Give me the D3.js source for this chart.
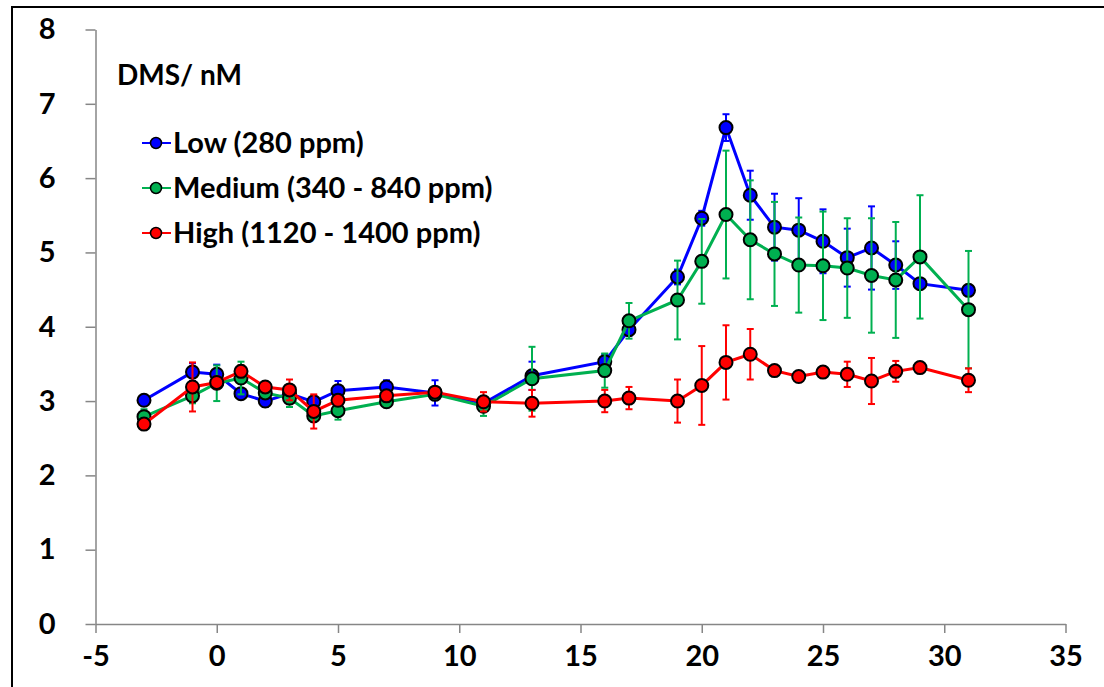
<!DOCTYPE html>
<html>
<head>
<meta charset="utf-8">
<script src="https://cdn.jsdelivr.net/npm/d3@7"></script>
<style>
  body { margin: 0; background: #fff; }
  text { font-family: Lato, "Open Sans", sans-serif; font-weight: 700; }
</style>
</head>
<body>
<div id="chart"></div>
<script>
// days of the experiment
var days = [-3, -1, 0, 1, 2, 3, 4, 5, 7, 9, 11, 13, 16, 17, 19, 20, 21, 22, 23, 24, 25, 26, 27, 28, 29, 31]

// mean DMS (nM) per treatment
var lowValues = [3.01, 3.39, 3.36, 3.10, 3.00, 3.10, 2.99, 3.14, 3.19, 3.11, 2.97, 3.34, 3.53, 3.96, 4.67, 5.46, 6.68, 5.77, 5.34, 5.30, 5.15, 4.93, 5.06, 4.83, 4.58, 4.49]
var mediumValues = [2.79, 3.07, 3.24, 3.31, 3.11, 3.04, 2.80, 2.87, 2.99, 3.09, 2.93, 3.30, 3.41, 4.08, 4.36, 4.88, 5.51, 5.17, 4.98, 4.83, 4.82, 4.79, 4.69, 4.63, 4.94, 4.23]
var highValues = [2.69, 3.19, 3.25, 3.40, 3.19, 3.15, 2.86, 3.01, 3.07, 3.12, 2.99, 2.97, 3.00, 3.04, 3.00, 3.21, 3.52, 3.63, 3.41, 3.33, 3.39, 3.36, 3.27, 3.40, 3.45, 3.28]

// error bars (+/-)
var lowErrors = [0.05, 0.12, 0.13, 0.05, 0.08, 0.10, 0.06, 0.13, 0.09, 0.17, 0.05, 0.19, 0.10, 0.08, 0.10, 0.10, 0.18, 0.33, 0.45, 0.43, 0.43, 0.39, 0.56, 0.32, 0.05, 0.05]
var mediumErrors = [0.10, 0.10, 0.24, 0.22, 0.05, 0.12, 0.05, 0.12, 0.05, 0.05, 0.13, 0.43, 0.23, 0.24, 0.53, 0.57, 0.86, 0.80, 0.70, 0.64, 0.73, 0.67, 0.77, 0.78, 0.83, 0.79]
var highErrors = [0.05, 0.33, 0.08, 0.08, 0.05, 0.14, 0.23, 0.05, 0.05, 0.05, 0.13, 0.18, 0.15, 0.15, 0.29, 0.53, 0.50, 0.34, 0.05, 0.05, 0.05, 0.17, 0.31, 0.14, 0.05, 0.16]

var seriesNames = ["Low (280 ppm)", "Medium (340 - 840 ppm)", "High (1120 - 1400 ppm)"]
var seriesColors = ["#0000ff", "#00b050", "#ff0000"]

var xTicks = [-5, 0, 5, 10, 15, 20, 25, 30, 35]
var yTicks = [0, 1, 2, 3, 4, 5, 6, 7, 8]

var width = 1104, height = 687

var svg = d3.select("#chart")
  .append("svg")
  .attr("width", width)
  .attr("height", height)

// frame round the whole chart (right and bottom run off the picture)
svg.append("rect")
  .attr("x", 12).attr("y", 7)
  .attr("width", 1120).attr("height", 720)
  .attr("fill", "none")
  .attr("stroke", "#000")
  .attr("stroke-width", 2)

var x = d3.scaleLinear().domain([-5, 35]).range([95.5, 1065.5])
var y = d3.scaleLinear().domain([0, 8]).range([624, 29.5])

// axes (plain hyphen for negatives, like the original)
var fmt = function(d) { return String(d) }
var xAxis = svg.append("g")
  .attr("transform", "translate(0," + y(0) + ")")
  .call(d3.axisBottom(x).tickValues(xTicks).tickFormat(fmt).tickSize(9).tickPadding(23).tickSizeOuter(0))
var yAxis = svg.append("g")
  .attr("transform", "translate(" + x(-5) + ",0)")
  .call(d3.axisLeft(y).tickValues(yTicks).tickFormat(fmt).tickSize(10).tickPadding(30).tickSizeOuter(0))

svg.selectAll(".domain, .tick line").attr("stroke", "#868686").attr("stroke-width", 1.5)
svg.selectAll(".tick text").attr("fill", "#000").style("font-size", "29px")
xAxis.selectAll(".tick text").attr("dy", "0.35em")

var allSeries = [
  {name: seriesNames[0], color: seriesColors[0], values: lowValues, errors: lowErrors},
  {name: seriesNames[1], color: seriesColors[1], values: mediumValues, errors: mediumErrors},
  {name: seriesNames[2], color: seriesColors[2], values: highValues, errors: highErrors}
]

var line = d3.line()
  .x(function(d) { return x(d.day) })
  .y(function(d) { return y(d.value) })

allSeries.forEach(function(s) {
  var pts = days.map(function(d, i) { return {day: d, value: s.values[i], err: s.errors[i]} })
  var g = svg.append("g")

  // error bars
  var eb = g.selectAll(".err").data(pts).enter().append("g").attr("class", "err")
    .attr("stroke", s.color).attr("stroke-width", 2)
  eb.append("line")
    .attr("x1", function(d) { return x(d.day) }).attr("x2", function(d) { return x(d.day) })
    .attr("y1", function(d) { return y(d.value + d.err) }).attr("y2", function(d) { return y(d.value - d.err) })
  eb.append("line")
    .attr("x1", function(d) { return x(d.day) - 3.5 }).attr("x2", function(d) { return x(d.day) + 3.5 })
    .attr("y1", function(d) { return y(d.value + d.err) }).attr("y2", function(d) { return y(d.value + d.err) })
  eb.append("line")
    .attr("x1", function(d) { return x(d.day) - 3.5 }).attr("x2", function(d) { return x(d.day) + 3.5 })
    .attr("y1", function(d) { return y(d.value - d.err) }).attr("y2", function(d) { return y(d.value - d.err) })

  g.append("path")
    .datum(pts)
    .attr("d", line)
    .attr("fill", "none")
    .attr("stroke", s.color)
    .attr("stroke-width", 3)

  g.selectAll("circle").data(pts).enter().append("circle")
    .attr("cx", function(d) { return x(d.day) })
    .attr("cy", function(d) { return y(d.value) })
    .attr("r", 6.5)
    .attr("fill", s.color)
    .attr("stroke", "#000")
    .attr("stroke-width", 2)
})

// axis title inside the plot
svg.append("text")
  .attr("x", 117).attr("y", 85)
  .style("font-size", "28px")
  .text("DMS/ nM")

// legend
var legend = svg.selectAll(".legend").data(allSeries).enter().append("g")
  .attr("transform", function(d, i) { return "translate(142," + (143 + i * 45) + ")" })
legend.append("line")
  .attr("x1", 0).attr("x2", 29).attr("y1", 0).attr("y2", 0)
  .attr("stroke", function(d) { return d.color }).attr("stroke-width", 2)
legend.append("circle")
  .attr("cx", 14).attr("cy", 0).attr("r", 5.5)
  .attr("fill", function(d) { return d.color })
  .attr("stroke", "#000").attr("stroke-width", 1.5)
legend.append("text")
  .attr("x", 31).attr("y", 0).attr("dy", "0.35em")
  .style("font-size", "29px")
  .text(function(d) { return d.name })
</script>
</body>
</html>
